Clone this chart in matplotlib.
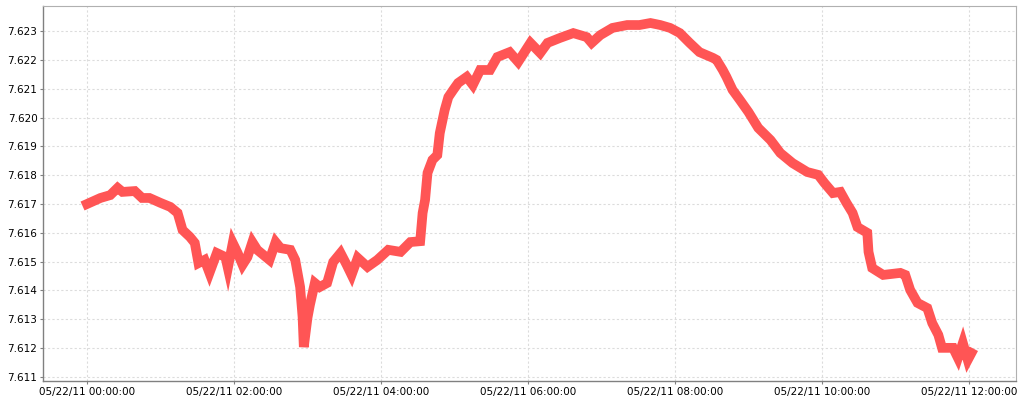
import datetime as dt
import matplotlib
matplotlib.use("Agg")
import matplotlib.pyplot as plt
import matplotlib.dates as mdates
from matplotlib.ticker import FormatStrFormatter

# minutes after 05/22/11 00:00:00, and the reading at that time
minutes = [0, 11, 19, 25, 29, 39, 45, 51, 60, 68,
           74, 78, 84, 88, 91, 96, 100, 106, 113, 115,
           119, 123, 127, 131, 135, 139, 149, 154, 158, 166,
           170, 174, 176, 177, 180, 182, 186, 190, 196, 201,
           207, 212, 216, 221, 229, 237, 246, 256, 264, 272,
           274, 276, 278, 282, 286, 288, 292, 295, 299, 303,
           310, 315, 321, 329, 335, 345, 352, 362, 370, 376,
           386, 397, 408, 412, 419, 429, 441, 451, 460, 468,
           476, 484, 492, 500, 511, 514, 519, 522, 527, 533,
           540, 548, 558, 566, 576, 588, 597, 602, 609, 615,
           620, 625, 629, 637, 638, 641, 650, 664, 668, 672,
           678, 686, 690, 695, 698, 707, 711, 715, 719, 722]
values = [7.61700, 7.61721, 7.61731, 7.61756, 7.61742, 7.61745, 7.61721, 7.61721, 7.61704, 7.61690,
          7.61669, 7.61610, 7.61586, 7.61565, 7.61495, 7.61506, 7.61461, 7.61530, 7.61516, 7.61478,
          7.61565, 7.61530, 7.61489, 7.61516, 7.61568, 7.61541, 7.61506, 7.61568, 7.61547, 7.61541,
          7.61506, 7.61412, 7.61308, 7.61204, 7.61305, 7.61350, 7.61426, 7.61412, 7.61426, 7.61499,
          7.61530, 7.61489, 7.61454, 7.61513, 7.61482, 7.61506, 7.61541, 7.61534, 7.61568, 7.61571,
          7.61669, 7.61714, 7.61808, 7.61853, 7.61870, 7.61946, 7.62026, 7.62071, 7.62096, 7.62120,
          7.62141, 7.62113, 7.62165, 7.62165, 7.62210, 7.62227, 7.62193, 7.62259, 7.62224, 7.62259,
          7.62276, 7.62293, 7.62279, 7.62259, 7.62286, 7.62311, 7.62321, 7.62321, 7.62328, 7.62321,
          7.62311, 7.62293, 7.62259, 7.62227, 7.62207, 7.62200, 7.62165, 7.62141, 7.62096, 7.62061,
          7.62019, 7.61964, 7.61922, 7.61877, 7.61842, 7.61811, 7.61801, 7.61773, 7.61738, 7.61742,
          7.61704, 7.61669, 7.61620, 7.61600, 7.61534, 7.61478, 7.61454, 7.61461, 7.61454, 7.61402,
          7.61357, 7.61339, 7.61287, 7.61246, 7.61201, 7.61201, 7.61166, 7.61218, 7.61159, 7.61183]

base = dt.datetime(2011, 5, 22)
times = [base + dt.timedelta(minutes=m) for m in minutes]

fig = plt.figure(figsize=(10.24, 4.0), dpi=100)
ax = fig.add_axes([43 / 1024, 19 / 400, 973 / 1024, 375 / 400])

ax.plot(times, values, color="#ff5555", linewidth=7,
        solid_joinstyle="miter", solid_capstyle="projecting")

ax.set_xlim(base - dt.timedelta(minutes=35.9), base + dt.timedelta(minutes=758.4))
ax.set_ylim(7.61086, 7.62387)
ax.xaxis.set_major_locator(mdates.HourLocator(byhour=range(0, 24, 2)))
ax.xaxis.set_major_formatter(mdates.DateFormatter("%m/%d/%y %H:%M:%S"))
ax.yaxis.set_major_locator(plt.MultipleLocator(0.001))
ax.yaxis.set_major_formatter(FormatStrFormatter("%.3f"))

ax.grid(True, color="#dcdcdc", linestyle=(0, (2, 2)), linewidth=0.8)
ax.set_axisbelow(True)
ax.tick_params(labelsize=7.5, length=2, width=0.8, color="#808080", pad=2)
for side in ["left", "bottom"]:
    ax.spines[side].set_color("#808080")
    ax.spines[side].set_linewidth(1.0)
for side in ["top", "right"]:
    ax.spines[side].set_color("#b0b0b0")
    ax.spines[side].set_linewidth(0.8)

fig.savefig("out.png", dpi=100)
